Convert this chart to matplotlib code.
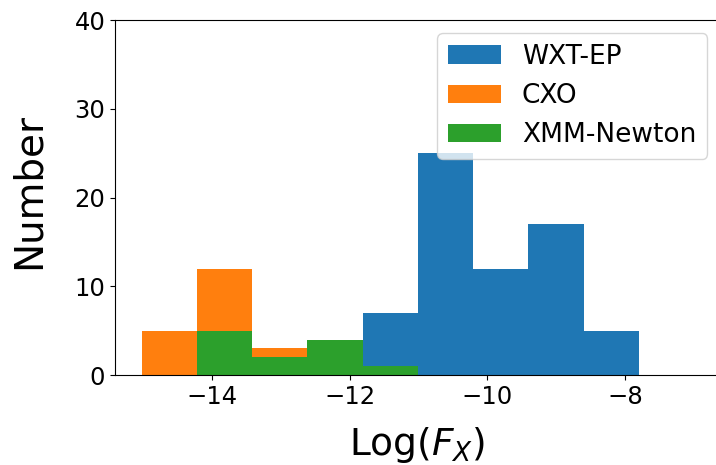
import numpy as np
import matplotlib.pyplot as plt

# histogram bins shared by all three samples (log10 flux)
bin_edges = np.linspace(-15.02, -7.80, 10)

# counts per bin
wxt_ep = [0, 0, 0, 0, 7, 25, 12, 17, 5]
cxo = [5, 12, 3, 0, 0, 0, 0, 0, 0]
xmm_newton = [0, 5, 2, 4, 1, 0, 0, 0, 0]

centros = (bin_edges[:-1] + bin_edges[1:]) / 2

fig = plt.figure(figsize=(7.16, 4.65), dpi=100)
ax = fig.add_axes([0.1606, 0.1935, 0.845, 0.7634])

ax.hist(centros, bins=bin_edges, weights=wxt_ep, color="#1f77b4", label="WXT-EP")
ax.hist(centros, bins=bin_edges, weights=cxo, color="#ff7f0e", label="CXO")
ax.hist(centros, bins=bin_edges, weights=xmm_newton, color="#2ca02c", label="XMM-Newton")

ax.set_xlim(-15.41, -6.62)
ax.set_ylim(0, 40)
ax.set_xticks([-14, -12, -10, -8])
ax.set_yticks([0, 10, 20, 30, 40])
ax.tick_params(labelsize=17.5)
ax.spines["right"].set_visible(False)

ax.set_xlabel("Log($F_X$)", fontsize=27, labelpad=12)
ax.set_ylabel("Number", fontsize=28, labelpad=19)
ax.yaxis.label.set_y(0.517)
ax.legend(loc="upper right", fontsize=19)

fig.savefig("out.png", dpi=100)
